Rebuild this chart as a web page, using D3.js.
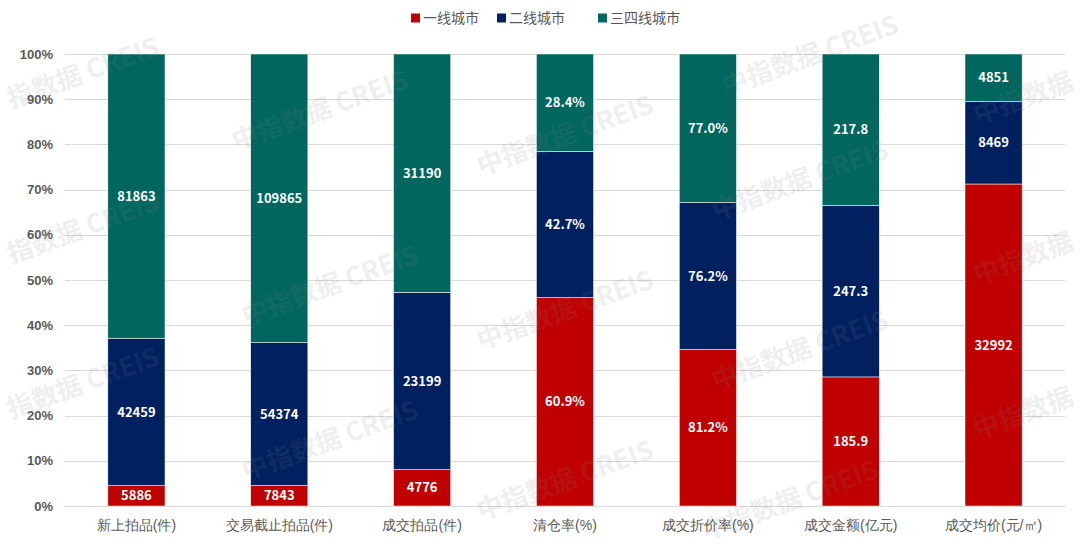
<html>
<head>
<meta charset="utf-8">
<style>
    body { margin: 0; background: #fff; }
    svg { font-family: "Noto Sans CJK SC", "Noto Sans", sans-serif; }
    .tick text { fill: #595959; }
</style>
<script src="https://cdn.jsdelivr.net/npm/d3@7"></script>
</head>
<body>
<div id="chart"></div>
<script>
    var categories = ['新上拍品(件)', '交易截止拍品(件)', '成交拍品(件)', '清仓率(%)', '成交折价率(%)', '成交金额(亿元)', '成交均价(元/㎡)'];
    var seriesNames = ['一线城市', '二线城市', '三四线城市'];
    var colors = ['#c00000', '#002060', '#00665e'];
    var tier1 = [5886, 7843, 4776, 60.9, 81.2, 185.9, 32992];
    var tier2 = [42459, 54374, 23199, 42.7, 76.2, 247.3, 8469];
    var tier3 = [81863, 109865, 31190, 28.4, 77.0, 217.8, 4851];
    var labels1 = ['5886', '7843', '4776', '60.9%', '81.2%', '185.9', '32992'];
    var labels2 = ['42459', '54374', '23199', '42.7%', '76.2%', '247.3', '8469'];
    var labels3 = ['81863', '109865', '31190', '28.4%', '77.0%', '217.8', '4851'];
    var yTicks = [0, 0.1, 0.2, 0.3, 0.4, 0.5, 0.6, 0.7, 0.8, 0.9, 1];

    var width = 1080, height = 551;
    var margin = { left: 65, right: 15, top: 54, bottom: 45 };

    var svg = d3.select('#chart').append('svg')
            .attr('width', width)
            .attr('height', height);

    // build rows for the stack, normalised per category
    var rows = categories.map(function(c, i) {
        var sum = tier1[i] + tier2[i] + tier3[i];
        return { cat: c, s0: tier1[i] / sum, s1: tier2[i] / sum, s2: tier3[i] / sum,
                 l: [labels1[i], labels2[i], labels3[i]] };
    });
    var stack = d3.stack().keys(['s0', 's1', 's2'])(rows);

    var x = d3.scaleBand()
            .domain(categories)
            .range([margin.left, width - margin.right])
            .paddingInner(0.6)
            .paddingOuter(0.3);

    var y = d3.scaleLinear()
            .domain([0, 1])
            .range([height - margin.bottom, margin.top]);

    // gridlines
    svg.append('g')
            .selectAll('line')
            .data(yTicks)
        .enter().append('line')
            .attr('x1', margin.left)
            .attr('x2', width - margin.right)
            .attr('y1', function(d) { return Math.round(y(d)) + 0.5 })
            .attr('y2', function(d) { return Math.round(y(d)) + 0.5 })
            .attr('stroke', '#d9d9d9')
            .attr('stroke-width', 1);

    // y axis labels
    var yAxis = svg.append('g')
            .attr('transform', 'translate(' + margin.left + ',0)')
            .call(d3.axisLeft(y).tickValues(yTicks).tickFormat(d3.format('.0%')).tickSize(0).tickPadding(12));
    yAxis.select('.domain').remove();
    yAxis.selectAll('text').attr('font-size', 13).attr('font-weight', 'bold');

    // bars
    var groups = svg.append('g')
            .selectAll('g')
            .data(stack)
        .enter().append('g')
            .attr('fill', function(d, i) { return colors[i] });

    groups.selectAll('rect')
            .data(function(d) { return d })
        .enter().append('rect')
            .attr('x', function(d) { return x(d.data.cat) })
            .attr('y', function(d) { return y(d[1]) })
            .attr('width', x.bandwidth())
            .attr('height', function(d) { return y(d[0]) - y(d[1]) })
            .attr('stroke', '#ffffff')
            .attr('stroke-width', 0.5);

    // value labels
    stack.forEach(function(layer, k) {
        svg.append('g')
                .selectAll('text')
                .data(layer)
            .enter().append('text')
                .attr('x', function(d) { return x(d.data.cat) + x.bandwidth() / 2 })
                .attr('y', function(d) { return (y(d[0]) + y(d[1])) / 2 })
                .attr('dy', '0.36em')
                .attr('text-anchor', 'middle')
                .attr('fill', '#ffffff')
                .attr('font-size', 13)
                .attr('font-weight', 'bold')
                .text(function(d) { return d.data.l[k] });
    });

    // x axis
    var xAxis = svg.append('g')
            .attr('transform', 'translate(0,' + y(0) + ')')
            .call(d3.axisBottom(x).tickSize(0).tickPadding(14));
    xAxis.select('.domain').attr('stroke', '#d9d9d9');
    xAxis.selectAll('text').attr('font-size', 14);

    // legend
    var legendX = [411, 497, 598];
    var legend = svg.append('g')
            .selectAll('g')
            .data(seriesNames)
        .enter().append('g')
            .attr('transform', function(d, i) { return 'translate(' + legendX[i] + ',18)' });
    legend.append('rect')
            .attr('x', 0).attr('y', -4.5)
            .attr('width', 9).attr('height', 9)
            .attr('fill', function(d, i) { return colors[i] });
    legend.append('text')
            .attr('x', 12)
            .attr('dy', '0.36em')
            .attr('font-size', 14)
            .attr('fill', '#595959')
            .text(function(d) { return d });

    // watermark: [x, y, anchor, text]
    var wm = '中指数据 CREIS';
    var marks = [[320, 110, 'middle', wm], [810, 55, 'middle', wm], [565, 135, 'middle', wm],
                 [330, 285, 'middle', wm], [800, 180, 'middle', wm], [565, 310, 'middle', wm],
                 [330, 440, 'middle', wm], [800, 350, 'middle', wm], [565, 480, 'middle', wm],
                 [790, 500, 'middle', wm],
                 [8, 100, 'start', '指数据 CREIS'], [8, 255, 'start', '指数据 CREIS'], [8, 410, 'start', '指数据 CREIS'],
                 [1072, 80, 'end', '中指数据'], [1072, 240, 'end', '中指数据'], [1072, 395, 'end', '中指数据']];
    svg.append('g')
            .selectAll('text')
            .data(marks)
        .enter().append('text')
            .attr('transform', function(d) { return 'translate(' + d[0] + ',' + d[1] + ') rotate(-20)' })
            .attr('text-anchor', function(d) { return d[2] })
            .attr('dy', '0.36em')
            .attr('font-size', 26)
            .attr('font-weight', 'bold')
            .attr('fill', '#808080')
            .attr('opacity', 0.12)
            .text(function(d) { return d[3] });
</script>
</body>
</html>
